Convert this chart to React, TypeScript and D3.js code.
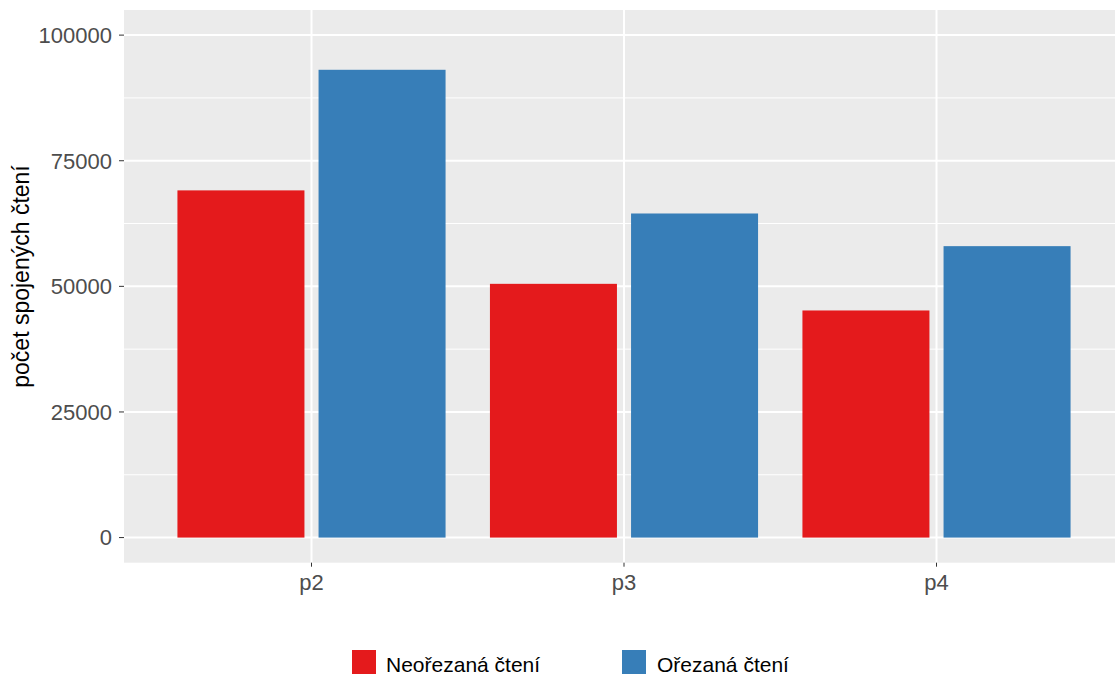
import React from "react";
import * as d3 from "d3";

const categories = ["p2", "p3", "p4"];
const seriesNames = ["Neořezaná čtení", "Ořezaná čtení"];
const neorezana = [69100, 50500, 45200];
const orezana = [93100, 64500, 58000];
const yTicks = [0, 25000, 50000, 75000, 100000];
const yMinorTicks = [12500, 37500, 62500, 87500];
const colors = ["#E41A1C", "#377EB8"];
const yLabel = "počet spojených čtení";

const W = 1115;
const H = 675;
const FONT = "'Liberation Sans', Arial, Helvetica, sans-serif";

export default function App() {
  const panel = { left: 124, top: 10, right: 1124, bottom: 562.7 };
  const unit = (panel.right - panel.left) / 3.2;
  const x = d3
    .scaleBand<string>()
    .domain(categories)
    .range([panel.left + 0.6 * unit - unit / 2, panel.right - 0.6 * unit + unit / 2])
    .padding(0);
  const dodgeW = x.bandwidth() * 0.858;
  const xi = d3
    .scaleBand<string>()
    .domain(seriesNames)
    .range([-dodgeW / 2, dodgeW / 2])
    .paddingInner(0.1);
  const y = d3.scaleLinear().domain([-5000, 105000]).range([panel.bottom, panel.top]);
  const values = [neorezana, orezana];
  const fmt = (v: number) => String(v);

  const legendItems = [
    { x: 352, textX: 386 },
    { x: 622, textX: 657 },
  ];

  return (
    <svg
      width={W}
      height={H}
      style={{ position: "absolute", left: 0, top: 0, background: "#fff" }}
      fontFamily={FONT}
    >
      <defs>
        <clipPath id="panelClip">
          <rect x={panel.left} y={panel.top} width={panel.right - panel.left} height={panel.bottom - panel.top} />
        </clipPath>
      </defs>
      <rect
        x={panel.left}
        y={panel.top}
        width={panel.right - panel.left}
        height={panel.bottom - panel.top}
        fill="#EBEBEB"
      />
      <g clipPath="url(#panelClip)">
        {yMinorTicks.map((t) => (
          <line key={"m" + t} x1={panel.left} x2={panel.right} y1={y(t)} y2={y(t)} stroke="#fff" strokeWidth={1} />
        ))}
        {yTicks.map((t) => (
          <line key={"g" + t} x1={panel.left} x2={panel.right} y1={y(t)} y2={y(t)} stroke="#fff" strokeWidth={2} />
        ))}
        {categories.map((c) => {
          const cx = (x(c) as number) + x.bandwidth() / 2;
          return <line key={"v" + c} x1={cx} x2={cx} y1={panel.top} y2={panel.bottom} stroke="#fff" strokeWidth={2} />;
        })}
        {categories.map((c, i) => {
          const cx = (x(c) as number) + x.bandwidth() / 2;
          return seriesNames.map((s, j) => {
            const v = values[j][i];
            return (
              <rect
                key={c + s}
                x={cx + (xi(s) as number)}
                y={y(v)}
                width={xi.bandwidth()}
                height={y(0) - y(v)}
                fill={colors[j]}
              />
            );
          });
        })}
      </g>
      {/* y axis */}
      {yTicks.map((t) => (
        <g key={"yt" + t}>
          <line x1={panel.left - 5} x2={panel.left} y1={y(t)} y2={y(t)} stroke="#333" strokeWidth={1} />
          <text
            x={112}
            y={y(t)}
            dy="0.36em"
            textAnchor="end"
            fontSize={22}
            fill="#4D4D4D"
          >
            {fmt(t)}
          </text>
        </g>
      ))}
      {/* x axis */}
      {categories.map((c) => {
        const cx = (x(c) as number) + x.bandwidth() / 2;
        return (
          <g key={"xt" + c}>
            <line x1={cx} x2={cx} y1={panel.bottom} y2={panel.bottom + 4} stroke="#333" strokeWidth={1} />
            <text x={cx} y={589.5} textAnchor="middle" fontSize={22} fill="#4D4D4D">
              {c}
            </text>
          </g>
        );
      })}
      <text
        transform={`translate(29, 276.5) rotate(-90)`}
        textAnchor="middle"
        fontSize={23}
        fill="#000"
      >
        {yLabel}
      </text>
      {/* legend */}
      {seriesNames.map((s, j) => (
        <g key={"lg" + s}>
          <rect x={legendItems[j].x} y={650} width={24} height={24} fill={colors[j]} />
          <text x={legendItems[j].textX} y={672} fontSize={21} fill="#000">
            {s}
          </text>
        </g>
      ))}
    </svg>
  );
}
